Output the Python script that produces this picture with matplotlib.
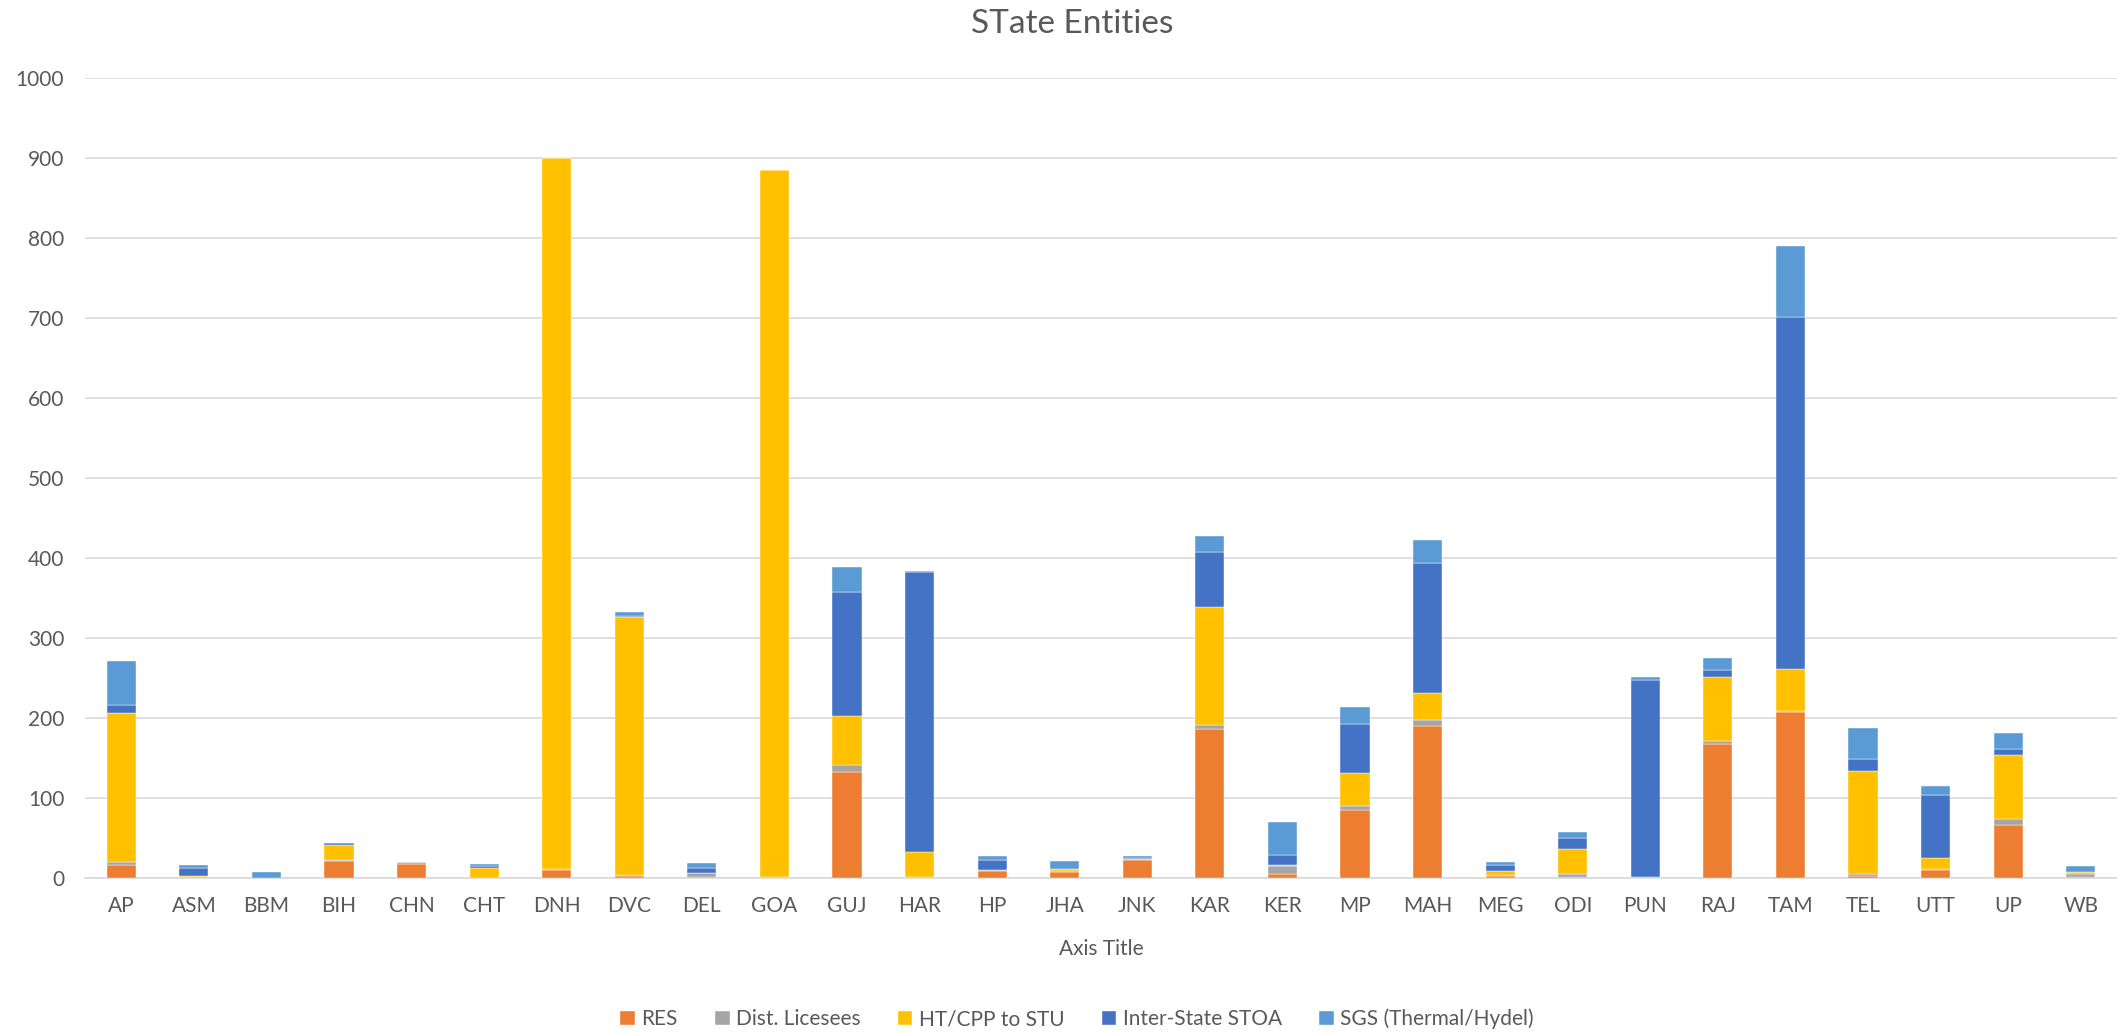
import matplotlib
matplotlib.use('Agg')
import matplotlib.pyplot as plt
import numpy as np

plt.rcParams['font.family'] = ['Lato', 'DejaVu Sans']

# states
categories = ['AP', 'ASM', 'BBM', 'BIH', 'CHN', 'CHT', 'DNH', 'DVC', 'DEL', 'GOA',
              'GUJ', 'HAR', 'HP', 'JHA', 'JNK', 'KAR', 'KER', 'MP', 'MAH', 'MEG',
              'ODI', 'PUN', 'RAJ', 'TAM', 'TEL', 'UTT', 'UP', 'WB']

# stacked series (bottom to top)
res = [16.7, 0.5, 0, 21, 17, 0, 9.5, 3, 1, 1,
       132, 0, 8.5, 7, 23, 186, 4.5, 84.5, 189.5, 2,
       1.5, 0, 167.5, 207, 3, 9.5, 66.5, 1]
dist_licesees = [3, 1, 0, 1.5, 2.5, 0, 1.2, 1, 5, 0.5,
                 9, 1.3, 1.5, 1.7, 0.8, 5.5, 10, 5.5, 8, 1.3,
                 3.7, 1, 3.3, 1.2, 2, 1.7, 7, 3.5]
ht_cpp = [187, 1.5, 0, 19, 0, 13, 889, 322, 0, 883,
          61, 31, 0, 2, 0, 147.5, 2, 41.5, 34, 6,
          30.5, 0, 80, 53.5, 129, 13.3, 80, 2.5]
inter_state = [10, 10, 0.5, 1.7, 0, 2, 0, 1, 6.5, 0,
               155, 350, 12, 0, 0.7, 68, 11.7, 61.5, 162.5, 6.7,
               14.2, 247, 9.2, 440, 14.6, 79, 7.5, 1]
sgs = [54, 3.5, 6.5, 0.8, 0, 2.5, 0, 5.5, 6, 0,
       32, 2, 6, 10, 2.5, 21, 41.7, 20.5, 29, 4.6,
       8, 3, 15, 88.5, 38.7, 11.3, 20.5, 6.5]

series_names = ['RES', 'Dist. Licesees', 'HT/CPP to STU', 'Inter-State STOA', 'SGS (Thermal/Hydel)']
colors = ['#ED7D31', '#A5A5A5', '#FFC000', '#4472C4', '#5B9BD5']

text_color = '#595959'
grid_color = '#D9D9D9'

fig = plt.figure(figsize=(21.17, 10.32), dpi=100)
ax = fig.add_axes([85 / 2117, 154 / 1032, 1 - 85 / 2117, 800 / 1032])

x = np.arange(len(categories))
bottom = np.zeros(len(categories))
for name, vals, c in zip(series_names, [res, dist_licesees, ht_cpp, inter_state, sgs], colors):
    vals = np.array(vals, dtype=float)
    ax.bar(x, vals, width=0.4, bottom=bottom, color=c, label=name,
           edgecolor='white', linewidth=0.3, zorder=3)
    bottom += vals

ax.set_xlim(-0.5, len(categories) - 0.5)
ax.set_ylim(0, 1000)
ax.set_yticks(range(0, 1001, 100))
ax.set_xticks(x)
ax.set_xticklabels(categories)

ax.grid(axis='y', color=grid_color, linewidth=1.2, zorder=0)
for s in ['top', 'right', 'left']:
    ax.spines[s].set_visible(False)
ax.spines['bottom'].set_color(grid_color)
ax.spines['bottom'].set_linewidth(1.2)
ax.tick_params(axis='both', length=0, labelsize=15, labelcolor=text_color)
ax.tick_params(axis='x', pad=13)
ax.tick_params(axis='y', pad=15)

fig.text(1072 / 2117, 1 - 24 / 1032, 'STate Entities', ha='center', va='center',
         fontsize=24, color=text_color)
fig.text(1101 / 2117, 1 - 949 / 1032, 'Axis Title', ha='center', va='center',
         fontsize=15, color=text_color)

leg = fig.legend(loc='center', bbox_to_anchor=(1077 / 2117, 1 - 1019 / 1032), ncol=5,
                 frameon=False, fontsize=15, handlelength=0.7, handleheight=0.7,
                 handletextpad=0.3, columnspacing=1.8)
for t in leg.get_texts():
    t.set_color(text_color)

fig.savefig('out.png', dpi=100, facecolor='white')
